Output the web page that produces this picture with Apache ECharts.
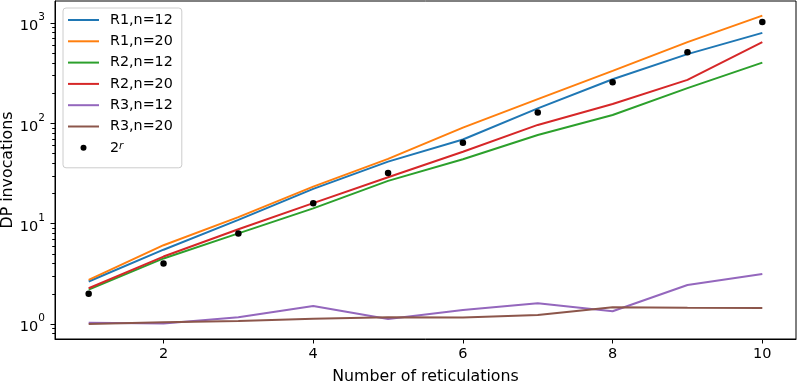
<!DOCTYPE html>
<html>
<head>
<meta charset="utf-8">
<script src="https://cdn.jsdelivr.net/npm/echarts@6/dist/echarts.min.js"></script>
<style>
html,body{margin:0;padding:0;background:#fff;}
#chart{width:797px;height:381px;}
</style>
</head>
<body>
<div id="chart"></div>
<script>
const reticulations = [1, 2, 3, 4, 5, 6, 7, 8, 9, 10];
const seriesNames = ['R1,n=12', 'R1,n=20', 'R2,n=12', 'R2,n=20', 'R3,n=12', 'R3,n=20'];
const r1n12 = [2.65, 5.5, 10.9, 22.2, 41.5, 69, 141, 275, 489, 797];
const r1n20 = [2.75, 6.1, 11.6, 23.4, 44.2, 90.6, 174, 333, 644, 1185];
const r2n12 = [2.2, 4.5, 8.0, 14.2, 26.7, 43.9, 76.6, 121, 224, 403];
const r2n20 = [2.27, 4.7, 8.8, 16.0, 29.0, 52, 96.4, 156, 271, 644];
const r3n12 = [1.03, 1.01, 1.17, 1.51, 1.12, 1.38, 1.61, 1.34, 2.45, 3.15];
const r3n20 = [1.0, 1.04, 1.07, 1.13, 1.17, 1.16, 1.23, 1.47, 1.45, 1.44];
const powersOfTwo = [2, 4, 8, 16, 32, 64, 128, 256, 512, 1024];
const dotName = '2^r';
const xTicks = [2, 4, 6, 8, 10];
const yMajorExp = [0, 1, 2, 3];
const yMinorVals = [0.8, 0.9, 2, 3, 4, 5, 6, 7, 8, 9, 20, 30, 40, 50, 60, 70, 80, 90, 200, 300, 400, 500, 600, 700, 800, 900];

const colors = ['#1f77b4', '#ff7f0e', '#2ca02c', '#d62728', '#9467bd', '#8c564b'];
const lineData = [r1n12, r1n20, r2n12, r2n20, r3n12, r3n20];

const yMin = 0.7086, yMax = 1656;
const FONT = 'DejaVu Sans';
const FS_NAME = 15.8;
const FS_TICK = 14.5;
const FS_LEG = 14.3;

const chart = echarts.init(document.getElementById('chart'), null, {renderer: 'canvas'});

const series = lineData.map((vals, i) => ({
  name: seriesNames[i],
  type: 'line',
  xAxisIndex: 0,
  yAxisIndex: 0,
  data: reticulations.map((x, j) => [x, vals[j]]),
  symbol: 'none',
  lineStyle: {color: colors[i], width: 2},
  itemStyle: {color: colors[i]},
  color: colors[i],
  animation: false,
  z: 2 + i
}));
series.push({
  name: dotName,
  type: 'scatter',
  xAxisIndex: 0,
  yAxisIndex: 0,
  data: reticulations.map((x, j) => [x, powersOfTwo[j]]),
  symbol: 'circle',
  symbolSize: 6.5,
  itemStyle: {color: '#000', opacity: 1},
  animation: false,
  z: 10
});

const lineIcon = 'path://M0,0 M37,14 M0,6 L31,6 L31,8 L0,8 Z';
const dotIcon = 'path://M0,0 M37,14 M12.5,7 A3,3 0 1,0 18.5,7 A3,3 0 1,0 12.5,7 Z';

const legendData = seriesNames.map(n => ({name: n, icon: lineIcon}));
legendData.push({name: dotName, icon: dotIcon});

const option = {
  backgroundColor: '#fff',
  animation: false,
  grid: {left: 55, right: 1, top: 1, bottom: 42, containLabel: false, outerBoundsMode: 'none', show: true, borderColor: '#000', borderWidth: 1, backgroundColor: 'transparent'},
  legend: {
    orient: 'vertical',
    left: 63,
    top: 8,
    padding: [5, 9, 12, 5],
    itemWidth: 37,
    itemHeight: 14,
    itemGap: 7.3,
    backgroundColor: 'rgba(255,255,255,0.8)',
    borderColor: '#cccccc',
    borderWidth: 1,
    borderRadius: 3,
    data: legendData,
    symbolKeepAspect: true,
    formatter: function (name) { return name === dotName ? '2{s|r}' : name; },
    textStyle: {
      fontFamily: FONT, fontSize: FS_LEG, color: '#000', lineHeight: 14,
      rich: {s: {fontFamily: FONT, fontSize: 10.5, fontStyle: 'italic', verticalAlign: 'top', lineHeight: 10, padding: [0, 0, 4, 0], color: '#000'}}
    }
  },
  xAxis: [{
    type: 'value',
    min: 0.55,
    max: 10.45,
    name: 'Number of reticulations',
    nameLocation: 'middle',
    nameGap: 30,
    nameTextStyle: {fontFamily: FONT, fontSize: FS_NAME, color: '#000'},
    splitLine: {show: false},
    axisLine: {show: true, onZero: false, lineStyle: {color: '#000', width: 1}},
    axisTick: {show: true, customValues: xTicks, length: 4.5, lineStyle: {color: '#000', width: 1}},
    axisLabel: {show: true, customValues: xTicks, margin: 8, fontFamily: FONT, fontSize: FS_TICK, color: '#000'}
  }],
  yAxis: [{
    type: 'log',
    logBase: 10,
    min: yMin,
    max: yMax,
    position: 'left',
    name: 'DP invocations',
    nameLocation: 'middle',
    nameGap: 39,
    nameTextStyle: {fontFamily: FONT, fontSize: FS_NAME, color: '#000'},
    splitLine: {show: false},
    axisLine: {show: true, lineStyle: {color: '#000', width: 1}},
    axisTick: {show: false},
    axisLabel: {show: false}
  }, {
    type: 'value',
    min: Math.log10(yMin),
    max: Math.log10(yMax),
    position: 'left',
    splitLine: {show: false},
    axisLine: {show: false},
    axisTick: {show: true, customValues: yMajorExp, length: 4.5, lineStyle: {color: '#000', width: 1}},
    axisLabel: {
      show: true, customValues: yMajorExp, margin: 10,
      formatter: function (v) { return '{b|10}{s|' + Math.round(v) + '}'; },
      rich: {
        b: {fontFamily: FONT, fontSize: FS_TICK, lineHeight: 22, verticalAlign: 'bottom', color: '#000'},
        s: {fontFamily: FONT, fontSize: 10.5, lineHeight: 13, verticalAlign: 'top', color: '#000'}
      }
    }
  }, {
    type: 'value',
    min: Math.log10(yMin),
    max: Math.log10(yMax),
    position: 'left',
    splitLine: {show: false},
    axisLine: {show: false},
    axisTick: {show: true, customValues: yMinorVals.map(v => Math.log10(v)), length: 2.8, lineStyle: {color: '#000', width: 1}},
    axisLabel: {show: false}
  }],
  series: series
};
chart.setOption(option);
</script>
</body>
</html>
